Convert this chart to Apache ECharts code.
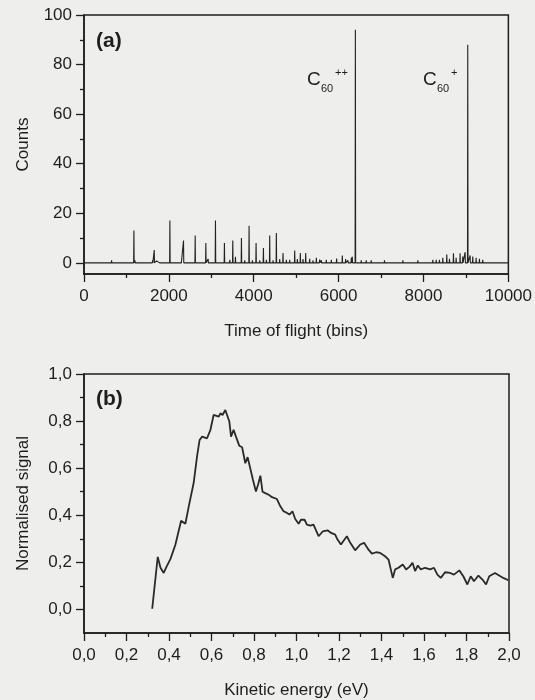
<!DOCTYPE html>
<html><head><meta charset="utf-8">
<script src="https://cdn.jsdelivr.net/npm/echarts@6/dist/echarts.min.js"></script>
<style>html,body{margin:0;padding:0;background:#eeeeec}#c{width:535px;height:700px}</style>
</head><body><div id="c"></div>
<script>
// ---------- panel (a): time-of-flight spectrum ----------
const countTicks = [0, 20, 40, 60, 80, 100];
const countMinorTicks = [10, 30, 50, 70, 90];
const peakBins = [650, 1176, 1200, 1270, 1350, 1400, 1616, 1655, 1710, 1788, 1906, 2024, 2100, 2200, 2300,
  2345, 2416, 2500, 2572, 2620, 2730, 2871, 2925, 3098, 3200, 3309, 3435, 3506, 3569, 3710, 3788, 3890,
  3969, 4055, 4141, 4228, 4298, 4376, 4455, 4533, 4612, 4690, 4769, 4847, 4965, 5028, 5098, 5161, 5224,
  5318, 5396, 5475, 5553, 5592, 5710, 5828, 5953, 6087, 6165, 6220, 6299, 6322, 6395, 6533, 6651, 6769,
  6886, 7082, 7514, 7671, 7867, 8220, 8300, 8376, 8455, 8549, 8612, 8706, 8769, 8863, 8925, 8981, 9043,
  9098, 9161, 9240, 9318, 9396, 9592, 9710, 9788];
const peakCounts = [1, 13, 1, 0.7, 0.5, 0.8, 1, 5.2, 0.8, 0.6, 0.8, 17.1, 0.6, 0.6, 0.6,
  9, 0.7, 0.6, 0.7, 11, 0.8, 8, 1.6, 17.1, 0.8, 8, 1.2, 9, 2.5, 10, 1, 15,
  1, 8, 1, 6, 1.2, 11, 1, 12, 1.5, 4, 1.2, 1.2, 5, 1.5, 4, 1.5, 4,
  1.6, 1, 2, 1.3, 1, 1.2, 1.2, 1.7, 3, 1.5, 1, 2, 2.5, 94, 1, 1, 1,
  0.7, 1, 1, 0.8, 1, 1.2, 1.2, 1.2, 2, 3.4, 1.6, 3.9, 2, 3.9, 2.6, 4.3, 88,
  3, 2.6, 2, 1.6, 1.2, 0.7, 0.7, 0.7];

// ---------- panel (b): kinetic energy distribution ----------
const energy = [0.321, 0.347, 0.360, 0.375, 0.388, 0.407, 0.430, 0.457, 0.477, 0.493, 0.516, 0.532, 0.544,
  0.556, 0.579, 0.585, 0.595, 0.610, 0.634, 0.642, 0.652, 0.665, 0.673, 0.684, 0.692, 0.704, 0.715, 0.731,
  0.744, 0.759, 0.770, 0.779, 0.795, 0.809, 0.819, 0.830, 0.840, 0.853, 0.869, 0.885, 0.908, 0.924, 0.939,
  0.955, 0.967, 0.981, 0.994, 1.010, 1.021, 1.038, 1.049, 1.065, 1.080, 1.104, 1.124, 1.146, 1.163, 1.182,
  1.193, 1.209, 1.237, 1.253, 1.276, 1.300, 1.318, 1.339, 1.355, 1.375, 1.394, 1.417, 1.433, 1.453, 1.464,
  1.480, 1.500, 1.516, 1.531, 1.546, 1.558, 1.571, 1.585, 1.605, 1.629, 1.647, 1.663, 1.679, 1.699, 1.723,
  1.741, 1.766, 1.785, 1.804, 1.820, 1.835, 1.856, 1.875, 1.892, 1.907, 1.934, 1.973, 1.997];
const signal = [0.003, 0.223, 0.177, 0.155, 0.181, 0.215, 0.275, 0.377, 0.364, 0.438, 0.537, 0.650, 0.720,
  0.734, 0.727, 0.720, 0.763, 0.826, 0.819, 0.833, 0.826, 0.847, 0.840, 0.798, 0.734, 0.763, 0.734, 0.695,
  0.689, 0.621, 0.647, 0.643, 0.551, 0.501, 0.530, 0.568, 0.500, 0.494, 0.487, 0.477, 0.469, 0.438, 0.417,
  0.410, 0.403, 0.417, 0.384, 0.364, 0.381, 0.381, 0.360, 0.356, 0.360, 0.311, 0.332, 0.336, 0.325, 0.318,
  0.297, 0.276, 0.311, 0.283, 0.251, 0.276, 0.283, 0.254, 0.237, 0.243, 0.240, 0.226, 0.212, 0.134, 0.170,
  0.177, 0.191, 0.170, 0.181, 0.198, 0.163, 0.187, 0.170, 0.177, 0.170, 0.177, 0.148, 0.134, 0.158, 0.155,
  0.148, 0.166, 0.141, 0.106, 0.141, 0.120, 0.144, 0.127, 0.106, 0.141, 0.155, 0.134, 0.124];
const signalTicks = [0, 0.2, 0.4, 0.6, 0.8, 1.0];
const signalMinorTicks = [0.1, 0.3, 0.5, 0.7, 0.9];

// build spike trace from peak list
const tofData = [[0, 0]];
peakBins.forEach((b, i) => { tofData.push([b - 6, 0], [b, peakCounts[i]], [b + 6, 0]); });
tofData.push([10000, 0]);
const keData = energy.map((e, i) => [e, signal[i]]);

const FONT = "'Liberation Sans', Arial, sans-serif";
const INK = '#1e1e1e';
const comma = v => Number(v).toFixed(1).replace('.', ',');
const plain = v => String(Math.round(v));

const axisLine = { show: true, onZero: false, lineStyle: { color: INK, width: 1.5 } };
const lbl = { color: INK, fontFamily: FONT, fontSize: 17 };
const nameSt = { color: INK, fontFamily: FONT, fontSize: 17 };
const tickSt = { color: INK, width: 1.3 };

const chart = echarts.init(document.getElementById('c'), null, { renderer: 'canvas' });
chart.setOption({
  backgroundColor: '#eeeeec',
  animation: false,
  grid: [
    { left: 84, top: 15, width: 425, height: 259, show: true, borderColor: INK, borderWidth: 1.5, backgroundColor: 'transparent' },
    { left: 84, top: 374, width: 425, height: 259, show: true, borderColor: INK, borderWidth: 1.5, backgroundColor: 'transparent' }
  ],
  xAxis: [
    { gridIndex: 0, type: 'value', min: 0, max: 10000, interval: 2000,
      axisLine, axisTick: { show: true, inside: false, length: 8, lineStyle: tickSt },
      minorTick: { show: true, splitNumber: 2, length: 4, lineStyle: tickSt },
      splitLine: { show: false }, axisLabel: Object.assign({ margin: 14, formatter: plain }, lbl),
      name: 'Time of flight (bins)', nameLocation: 'middle', nameGap: 49, nameTextStyle: nameSt },
    { gridIndex: 1, type: 'value', min: 0, max: 2, interval: 0.2,
      axisLine, axisTick: { show: true, inside: false, length: 8, lineStyle: tickSt },
      minorTick: { show: true, splitNumber: 2, length: 4, lineStyle: tickSt },
      splitLine: { show: false }, axisLabel: Object.assign({ margin: 14, formatter: comma }, lbl),
      name: 'Kinetic energy (eV)', nameLocation: 'middle', nameGap: 49, nameTextStyle: nameSt }
  ],
  yAxis: [
    { gridIndex: 0, type: 'value', min: -4.5, max: 100,
      axisLine, axisTick: { show: true, inside: false, length: 8, customValues: countTicks, lineStyle: tickSt },
      splitLine: { show: false }, axisLabel: Object.assign({ margin: 12, customValues: countTicks }, lbl),
      name: 'Counts', nameLocation: 'middle', nameGap: 52, nameTextStyle: nameSt },
    { gridIndex: 0, type: 'value', min: -4.5, max: 100, position: 'left',
      axisLine: { show: false }, axisTick: { show: true, inside: false, length: 4, customValues: countMinorTicks, lineStyle: tickSt },
      splitLine: { show: false }, axisLabel: { show: false } },
    { gridIndex: 1, type: 'value', min: -0.1, max: 1.0,
      axisLine, axisTick: { show: true, inside: false, length: 8, customValues: signalTicks, lineStyle: tickSt },
      splitLine: { show: false }, axisLabel: Object.assign({ margin: 12, customValues: signalTicks, formatter: comma }, lbl),
      name: 'Normalised signal', nameLocation: 'middle', nameGap: 52, nameTextStyle: nameSt },
    { gridIndex: 1, type: 'value', min: -0.1, max: 1.0, position: 'left',
      axisLine: { show: false }, axisTick: { show: true, inside: false, length: 4, customValues: signalMinorTicks, lineStyle: tickSt },
      splitLine: { show: false }, axisLabel: { show: false } }
  ],
  series: [
    { type: 'line', xAxisIndex: 0, yAxisIndex: 0, data: tofData, showSymbol: false, symbol: 'none',
      lineStyle: { color: '#222', width: 1.1 }, clip: true },
    { type: 'line', xAxisIndex: 1, yAxisIndex: 2, data: keData, showSymbol: false, symbol: 'none',
      lineStyle: { color: '#2a2a2a', width: 1.8 }, clip: true }
  ],
  graphic: [
    { type: 'text', left: 96, top: 31, style: { text: '(a)', fontFamily: FONT, fontSize: 21, fontWeight: 'bold', fill: INK } },
    { type: 'text', left: 96, top: 389, style: { text: '(b)', fontFamily: FONT, fontSize: 21, fontWeight: 'bold', fill: INK } },
    { type: 'text', left: 307, top: 70, style: { text: 'C', fontFamily: FONT, fontSize: 19, fill: INK } },
    { type: 'text', left: 321, top: 83, style: { text: '60', fontFamily: FONT, fontSize: 11, fill: INK } },
    { type: 'text', left: 335, top: 67, style: { text: '++', fontFamily: FONT, fontSize: 11, fill: INK } },
    { type: 'text', left: 423, top: 70, style: { text: 'C', fontFamily: FONT, fontSize: 19, fill: INK } },
    { type: 'text', left: 437, top: 83, style: { text: '60', fontFamily: FONT, fontSize: 11, fill: INK } },
    { type: 'text', left: 451, top: 67, style: { text: '+', fontFamily: FONT, fontSize: 11, fill: INK } }
  ]
});
</script></body></html>
